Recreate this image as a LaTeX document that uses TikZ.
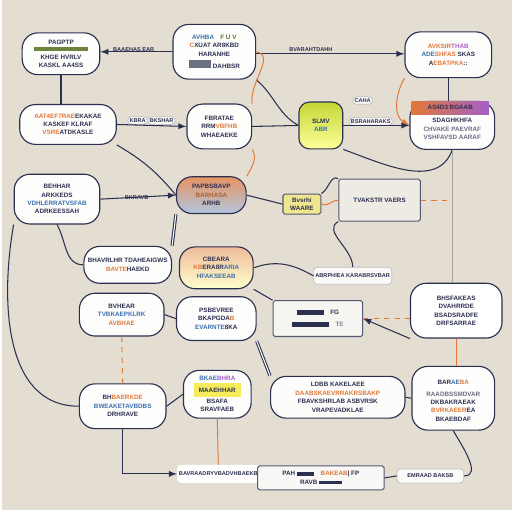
\documentclass[tikz,border=0pt]{standalone}
\usepackage{fontspec}
\setmainfont{Liberation Sans}
\usetikzlibrary{positioning,shapes.symbols}
\definecolor{paper}{HTML}{E3DDD2}
\definecolor{ink}{HTML}{2C3050}
\definecolor{rust}{HTML}{E07838}
\definecolor{sky}{HTML}{3C6FB0}
\definecolor{leaf}{HTML}{9DBB5A}
\definecolor{plum}{HTML}{A45FC8}
\begin{document}
\begin{tikzpicture}[x=0.02cm, y=-0.02cm, >=latex,
    blob/.style={draw=ink, line width=0.65pt, fill=white!94!paper, rounded corners=9pt,
      align=center, inner sep=1pt, font=\fontsize{3.6}{4.8}\selectfont\bfseries},
    card/.style={draw=ink!80, line width=0.6pt, fill=paper!60!white, rounded corners=1pt,
      align=center, inner sep=1pt, font=\fontsize{3.6}{4.8}\selectfont\bfseries},
    tag/.style={draw=gray!50, fill=white!85!paper, rounded corners=2pt, inner sep=1pt,
      font=\fontsize{3.2}{4}\selectfont\bfseries, text=ink},
    link/.style={draw=ink, line width=0.6pt},
    hot/.style={draw=rust, line width=0.55pt}]
  \fill[paper] (0,0) rectangle (512,512);

  % top row
  \node[blob, minimum width=1.56cm, minimum height=0.84cm] (vision) at (59,54)
    {\textcolor{ink}{PAGPTP}\\[-1pt]\textcolor{leaf!70!black}{\rule{1.1cm}{2pt}}\\
     \textcolor{ink}{KHGE HVRLV}\\\textcolor{ink}{KASKL AA4SS}};
  \node[blob, minimum width=1.66cm, minimum height=1.1cm] (scope) at (213,52)
    {\textcolor{sky}{AVHBA}\quad\textcolor{leaf!60!black}{F U V}\\
     \textcolor{rust}{C}\textcolor{ink}{XUAT AR8KBD}\\\textcolor{ink}{HARANHE}\\[1pt]
     \textcolor{ink!70}{\rule{0.45cm}{5pt}}\ \textcolor{ink}{DAHBSR}};
  \node[blob, minimum width=1.74cm, minimum height=0.92cm] (goals) at (448,55)
    {\textcolor{rust}{AVKSIR}\textcolor{plum}{THAB}\\
     \textcolor{sky}{ADE}\textcolor{rust}{SHFAS} \textcolor{ink}{SKAS}\\
     \textcolor{ink}{A}\textcolor{rust}{EBATPKA}\textcolor{ink}{ ::}};

  % second row
  \node[blob, minimum width=1.94cm, minimum height=0.8cm] (users) at (66,125)
    {\textcolor{rust}{AAT4EF7RAE}\textcolor{ink}{EKAKAE}\\
     \textcolor{ink}{KASKEF KLRAF}\\\textcolor{rust}{VSRE}\textcolor{ink}{ ATDKASLE}};
  \node[blob, minimum width=1.3cm, minimum height=0.9cm] (plan) at (218,127)
    {\textcolor{ink}{FBRATAE}\\\textcolor{ink}{RRM}\textcolor{rust}{ VBFHB}\\\textcolor{ink}{WHAEAEKE}};
  \node[blob, minimum width=0.88cm, minimum height=0.94cm, top color=leaf!60!yellow,
    bottom color=yellow!40!white, rounded corners=6pt] (build) at (320,126)
    {\textcolor{ink}{SLMV}\\\textcolor{sky}{ABR}};
  \node[blob, minimum width=1.7cm, minimum height=0.96cm] (launch) at (452,126)
    {\\[2pt]\textcolor{ink}{SDAGHKHFA}\\\textcolor{ink!70}{CHVAKE PAEVRAF}\\
     \textcolor{ink!70}{VSHFAVSD AARAF}};
  \node[left color=rust, right color=plum, minimum width=1.55cm, minimum height=0.26cm,
    inner sep=0pt, font=\fontsize{3.6}{4.5}\selectfont\bfseries, text=ink]
    (launchtop) at (450,108) {AS4D3 BGAAB};

  % third row
  \node[blob, minimum width=1.72cm, minimum height=1.0cm] (risks) at (55,200)
    {\textcolor{ink}{BEHHAR}\\\textcolor{ink}{ARKKEDS}\\\textcolor{sky}{VDHLERRATVSFAB}\\
     \textcolor{ink}{ADRKEESSAH}};
  \node[blob, minimum width=1.4cm, minimum height=0.74cm, top color=rust!80,
    bottom color=sky!40] (core) at (210,196)
    {\textcolor{ink}{PAPBSBAVP}\\\textcolor{rust!80!black}{BARHASA}\\\textcolor{ink}{ARHB}};
  \node[card, minimum width=0.76cm, minimum height=0.4cm, fill=yellow!35!paper] (notes) at (301,205)
    {\textcolor{ink}{Bvsrhi}\\\textcolor{ink}{WAARE}};
  \node[card, minimum width=1.64cm, minimum height=0.84cm] (review) at (379,201)
    {\textcolor{ink}{TVAKSTR VAERS}};

  % fourth row
  \node[tag, minimum width=1.22cm, minimum height=0.34cm] (check) at (352,277)
    {ABRPHIEA KAR\\ABRSVBAR};
  \node[blob, minimum width=1.76cm, minimum height=0.74cm] (tasks) at (126,266)
    {\textcolor{ink}{BHAVRLHR TDAHEAIGWS}\\\textcolor{rust}{BAVTE}\textcolor{ink}{ HAEKD}};
  \node[blob, minimum width=1.48cm, minimum height=0.84cm, top color=rust!50,
    bottom color=yellow!20!white] (tests) at (215,269)
    {\textcolor{ink}{CBEARA}\\\textcolor{rust}{KB}\textcolor{ink}{ERA8R}\textcolor{sky}{ARIA}\\
     \textcolor{sky}{HFAKSEEAB}};
  \node[card, minimum width=1.8cm, minimum height=0.72cm, fill=white!70!paper] (deploy) at (317,320)
    {\textcolor{ink}{\rule{0.55cm}{2.5pt}}\quad\textcolor{ink}{FG}\\[2pt]
     \textcolor{ink}{\rule{0.75cm}{2.5pt}}\quad\textcolor{ink!60}{TE}};
  \node[blob, minimum width=1.84cm, minimum height=1.1cm, fill=white] (metrics) at (456,312)
    {\textcolor{ink}{BHSFAKEAS}\\\textcolor{ink}{DVAHRRDE}\\\textcolor{ink}{BSADSRADFE}\\
     \textcolor{ink}{DRFSARRAE}};

  % fifth row
  \node[blob, minimum width=1.7cm, minimum height=0.86cm] (team) at (120,316)
    {\textcolor{ink}{BVHEAR}\\\textcolor{sky}{TVBKAEPKLRK}\\\textcolor{rust}{AVBHAE}};
  \node[blob, minimum width=1.6cm, minimum height=0.88cm] (budget) at (215,320)
    {\textcolor{ink}{PSBEVREE}\\\textcolor{ink}{BKAPGDA}\textcolor{rust}{B}\\
     \textcolor{sky}{EVARNTE}\textcolor{ink}{ 8KA}};

  % bottom row
  \node[blob, minimum width=1.74cm, minimum height=0.9cm] (review2) at (121,408)
    {\textcolor{ink}{BH}\textcolor{rust}{BAERKDE}\\\textcolor{sky}{BWEAKETAVBDBS}\\
     \textcolor{ink}{DRHRAVE}};
  \node[blob, minimum width=1.36cm, minimum height=0.96cm] (scale) at (216,396)
    {\textcolor{sky}{BKAE}\textcolor{plum}{BHRA}\\
     \colorbox{yellow!60!paper}{\textcolor{ink}{MAAEHHAR}}\\
     \textcolor{ink}{BSAFA}\\\textcolor{ink}{SRAVFAEB}};
  \node[blob, minimum width=2.7cm, minimum height=0.84cm, fill=white!90!paper] (feedback) at (337,399)
    {\textcolor{ink}{LDBB KAKELAEE}\\\textcolor{rust}{DAABSKAEVRRAKRSBAKP}\\
     \textcolor{ink}{FBAVKSHRLAB ASBVRSK}\\\textcolor{ink}{VRAPEVADKLAE}};
  \node[blob, minimum width=1.66cm, minimum height=1.28cm] (report) at (453,400)
    {\colorbox{white}{\textcolor{ink}{BAR}\textcolor{sky}{AE}\textcolor{rust}{BA}}\\
     \textcolor{ink!70}{RAADBSSMDVAR}\\\textcolor{ink}{DKBAKRAEAK}\\
     \textcolor{rust}{BVRKAEER}\textcolor{ink}{EA}\\\textcolor{ink}{BKAEBDAF}};
  \node[tag, minimum width=1.4cm, minimum height=0.36cm, draw=none, fill=white] (final) at (217,476)
    {BAVRAADRYVB\\ADVHBAEKB};
  \node[card, minimum width=2.54cm, minimum height=0.48cm, fill=white!80!paper] (summary) at (320,480)
    {\textcolor{ink}{PAH \rule{0.35cm}{2pt}}\quad\textcolor{rust}{BAKEAB}\textcolor{ink}{ | FP}\\
     \textcolor{ink}{RAVB \rule{0.45cm}{2pt}}\hspace{1.1cm}};
  \node[tag, minimum width=1.34cm, minimum height=0.28cm] (archive) at (430,478) {EMRAAD BAKSB};

  % edge labels
  \node[font=\fontsize{3.2}{4}\selectfont\bfseries, text=ink] (l1) at (132,50) {BAAEHAS EAR};
  \node[font=\fontsize{3.2}{4}\selectfont\bfseries, text=ink] (l2) at (310,50) {BVARAHTDAHH};
  \node[tag] (l3) at (136,121) {KBRA};
  \node[tag] (l4) at (160,121) {BKSHAR};
  \node[tag] (l5) at (362,101) {CAHA};
  \node[tag] (l6) at (370,122) {BSRAHARAKS};
  \node[font=\fontsize{3.2}{4}\selectfont\bfseries, text=ink] (l7) at (135,198) {BKRAVB};

  % connectors
  \draw[link,->] (scope.west) -- (vision.east |- scope.west);
  \draw[link,->] (scope.east |- vision.east) -- (goals.west |- vision.east);
  \draw[link] (vision.south) -- (users.north -| vision.south);
  \draw[link,->] (users.east) -- (plan.west);
  \draw[link] (users.south east) to[bend left=10] (core.west);
  \draw[link] (scope.south east) to[out=-40, in=150] (build.west);
  \draw[hot,->] (goals.south west) to[out=-120, in=150] (launch.west);
  \draw[hot] (scope.east) to[out=-10, in=100] (plan.north east);
  \draw[link] (goals.south) -- (launch.north -| goals.south);
  \draw[link,->] (build.east) -- (launch.west);
  \draw[link] (build.south east) to[out=-20, in=-110] (launch.south);
  \draw[link] (plan.east) -- (build.west);
  \draw[hot] (plan.south east) to[out=-60, in=60] (core.north east);
  \draw[draw=gray!70, line width=0.6pt] (launch.south) -- (metrics.north -| launch.south);
  \draw[hot, dashed] (review.east) -- (launch.south |- review.east);
  \draw[link,->] (risks.east) -- (core.west);
  \draw[link] (risks.south) to[out=-60, in=180] (tasks.west);
  \draw[link, double] (tasks.north east) -- (core.south west);
  \draw[link] (core.east) -- (notes.west);
  \draw[link] (notes.north east) to[out=30, in=150] (review.north west);
  \draw[hot] (notes.east) to[out=-30, in=180] (review.west);
  \draw[link] (tests.east) to[out=20, in=150] (check.west);
  \draw[link] (review.south west) to[out=-150, in=90] (check.north);
  \draw[link] (tests.south east) -- (deploy.north west);
  \draw[link,->] (metrics.south west) -- (deploy.east);
  \draw[hot, dashed] (deploy.east) -- (metrics.west |- deploy.east);
  \draw[link] (risks.south west) to[out=-100, in=180] (review2.west);
  \draw[link] (team.east) -- (budget.west);
  \draw[hot, dashed] (team.south) -- (review2.north);
  \draw[link] (review2.east) -- (scale.west);
  \draw[link, double] (budget.south east) -- (feedback.north west);
  \draw[hot] (metrics.south) -- (report.north -| metrics.south);
  \draw[link,->] (review2.south) |- (final.west);
  \draw[hot] (scale.south) -- (final.north);
  \draw[link] (report.south) to[out=-60, in=0] (archive.east);
  \draw[link] (feedback.east) -- (report.west);
  \draw[link] (summary.east) -- (archive.west);
\end{tikzpicture}
\end{document}
